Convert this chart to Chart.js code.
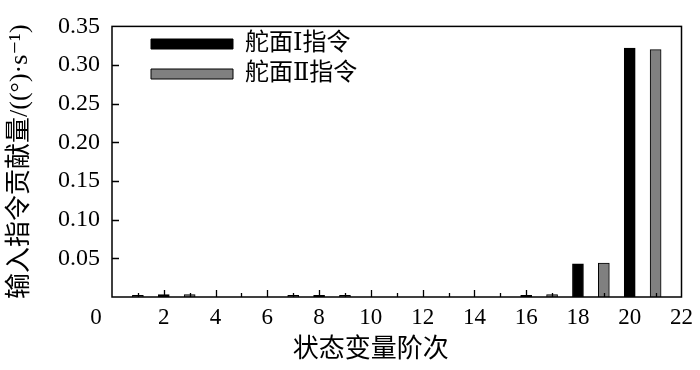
<!DOCTYPE html>
<html>
<head>
<meta charset="utf-8">
<script src="https://cdn.jsdelivr.net/npm/chart.js@4/dist/chart.umd.min.js"></script>
<style>
  html, body { margin: 0; padding: 0; background: #fff; }
  #wrap { width: 700px; height: 370px; }
</style>
</head>
<body>
<div id="wrap"><canvas id="chartCanvas" width="700" height="370"></canvas></div>
<script>
// 状态变量阶次 -> 贡献量
const rudder1Order = [2, 8, 16, 18, 20];
const rudder1Value = [0.003, 0.002, 0.002, 0.043, 0.322];
const rudder2Order = [1, 3, 7, 9, 17, 19, 21];
const rudder2Value = [0.002, 0.003, 0.002, 0.002, 0.003, 0.044, 0.320];

const seriesNames = ['舵面Ⅰ指令', '舵面Ⅱ指令'];
const xTicks = [0, 2, 4, 6, 8, 10, 12, 14, 16, 18, 20, 22];
const yTicks = [0, 0.05, 0.10, 0.15, 0.20, 0.25, 0.30, 0.35];

const serif = '"Liberation Serif", "DejaVu Serif", "Noto Sans CJK SC", serif';

function toPoints(xs, ys) {
  return xs.map((x, i) => ({ x: x, y: ys[i] }));
}

// inward ticks, frame and the shared "0" label
const framePlugin = {
  id: 'frame',
  afterLayout(chart) {
    chart.legend.left += 33;
    chart.legend.top += 26;
  },
  afterDraw(chart) {
    const ctx = chart.ctx;
    const a = chart.chartArea;
    const xs = chart.scales.x, ys = chart.scales.y;
    ctx.save();
    ctx.strokeStyle = '#000';
    ctx.lineWidth = 1.3;
    ctx.beginPath();
    for (let v = 1; v < 22; v++) {
      const px = Math.round(xs.getPixelForValue(v)) + 0.5;
      const len = v % 2 === 0 ? 7 : 4;
      ctx.moveTo(px, a.bottom);
      ctx.lineTo(px, a.bottom - len);
    }
    yTicks.slice(1, -1).forEach(v => {
      const py = Math.round(ys.getPixelForValue(v)) + 0.5;
      ctx.moveTo(a.left, py);
      ctx.lineTo(a.left + 7, py);
    });
    ctx.stroke();
    ctx.lineWidth = 1.5;
    ctx.strokeRect(a.left, a.top, a.right - a.left, a.bottom - a.top);
    ctx.fillStyle = '#000';
    ctx.font = '23px ' + serif;
    ctx.textAlign = 'center';
    ctx.textBaseline = 'middle';
    ctx.fillText('0', a.left - 16, a.bottom + 21);
    ctx.restore();
  }
};

const ctx = document.getElementById('chartCanvas').getContext('2d');
new Chart(ctx, {
  type: 'bar',
  data: {
    datasets: [{
      label: seriesNames[0],
      data: toPoints(rudder1Order, rudder1Value),
      backgroundColor: '#000000',
      borderColor: '#000000',
      borderWidth: 1,
      barThickness: 11,
      grouped: false
    }, {
      label: seriesNames[1],
      data: toPoints(rudder2Order, rudder2Value),
      backgroundColor: '#808080',
      borderColor: '#000000',
      borderWidth: 1,
      barThickness: 11,
      grouped: false
    }]
  },
  options: {
    responsive: false,
    animation: false,
    layout: { padding: { top: 15, right: 14, left: 0, bottom: 0 } },
    plugins: {
      tooltip: { enabled: false },
      legend: {
        position: 'chartArea',
        align: 'start',
        labels: {
          boxWidth: 82,
          boxHeight: 10,
          padding: 6,
          color: '#000',
          font: { family: serif, size: 24 }
        }
      }
    },
    scales: {
      x: {
        type: 'linear',
        min: 0,
        max: 22,
        offset: false,
        grid: { display: false, offset: false, drawTicks: false },
        border: { display: false },
        afterFit(scale) { scale.height = 73; },
        afterBuildTicks(scale) { scale.ticks = xTicks.map(v => ({ value: v })); },
        ticks: {
          padding: 7,
          color: '#000',
          font: { family: serif, size: 23 },
          callback: v => (v === 0 ? '' : String(v))
        },
        title: {
          display: true,
          text: '状态变量阶次\u3000\u3000',
          color: '#000',
          font: { family: serif, size: 26 },
          padding: { top: 0, bottom: 4 }
        }
      },
      y: {
        min: 0,
        max: 0.35,
        grid: { display: false, drawTicks: false },
        border: { display: false },
        afterFit(scale) { scale.width = 112; },
        afterBuildTicks(scale) { scale.ticks = yTicks.map(v => ({ value: v })); },
        ticks: {
          padding: 12,
          color: '#000',
          font: { family: serif, size: 24 },
          callback: v => (v === 0 ? '' : v.toFixed(2))
        },
        title: {
          display: true,
          text: '输入指令贡献量/((°)·s⁻¹)',
          color: '#000',
          font: { family: serif, size: 26 },
          padding: { top: 5, bottom: 0 }
        }
      }
    }
  },
  plugins: [framePlugin]
});
</script>
</body>
</html>
